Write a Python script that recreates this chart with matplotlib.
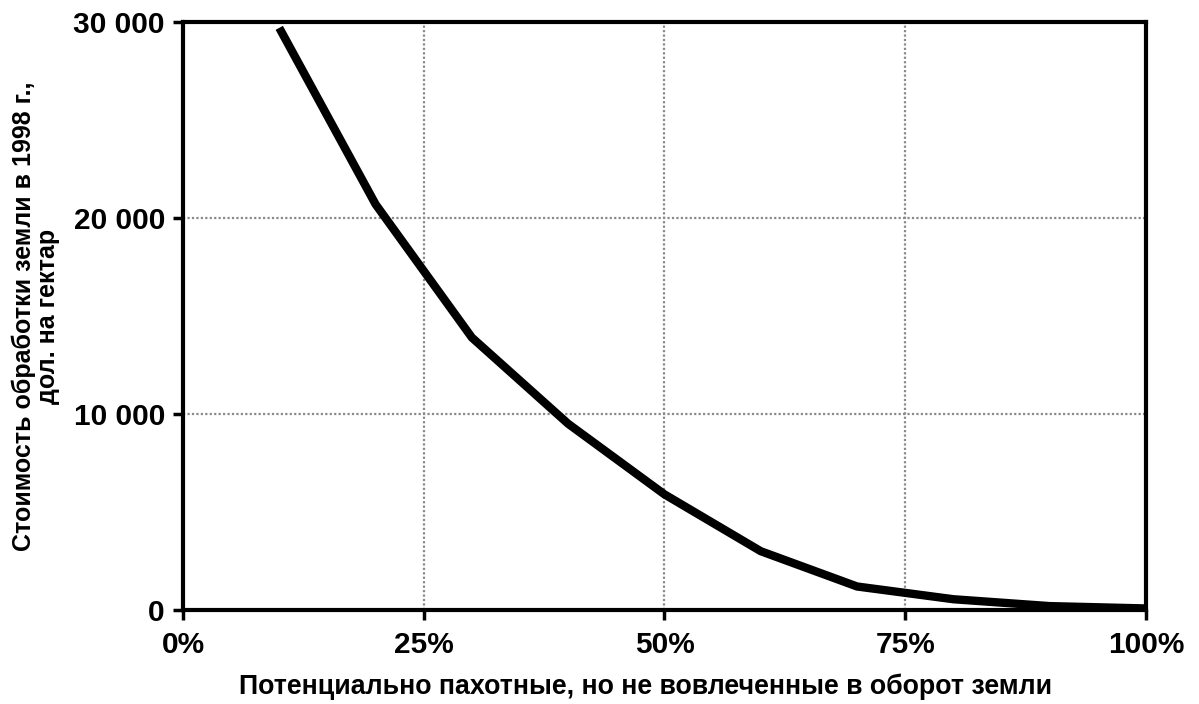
import matplotlib.pyplot as plt
from matplotlib.ticker import FuncFormatter

# share of potentially arable land (%) vs. cost of bringing it into use, USD/ha (1998)
share = [10, 20, 30, 40, 50, 60, 70, 80, 90, 100]
cost = [29700, 20700, 13900, 9500, 5900, 3000, 1200, 550, 200, 80]

x_ticks = [0, 25, 50, 75, 100]
y_ticks = [0, 10000, 20000, 30000]

plt.rcParams['font.family'] = ['Liberation Sans', 'DejaVu Sans']
plt.rcParams['font.weight'] = 'bold'

fig = plt.figure(figsize=(11.99, 7.04), dpi=100)
ax = fig.add_axes([0.1526, 0.1335, 0.8032, 0.8353])

ax.plot(share, cost, color='black', linewidth=6, solid_capstyle='butt',
        solid_joinstyle='miter', zorder=3)

ax.set_xlim(0, 100)
ax.set_ylim(0, 30000)
ax.set_xticks(x_ticks)
ax.set_yticks(y_ticks)
ax.xaxis.set_major_formatter(FuncFormatter(lambda v, p: f'{int(v)}%'))
ax.yaxis.set_major_formatter(FuncFormatter(lambda v, p: f'{int(v):,}'.replace(',', ' ')))

ax.grid(True, color='#8a8a8a', linestyle=(0, (1, 1)), linewidth=1.6)
ax.set_axisbelow(True)
for s in ax.spines.values():
    s.set_linewidth(3)
    s.set_color('black')

ax.tick_params(axis='both', direction='out', length=7, width=2.5, labelsize=21.5)
ax.tick_params(axis='x', pad=8)
ax.tick_params(axis='y', pad=6)
for lbl in ax.get_xticklabels() + ax.get_yticklabels():
    lbl.set_fontweight('bold')

ax.set_xlabel('Потенциально пахотные, но не вовлеченные в оборот земли',
              fontsize=19.3, fontweight='bold')
ax.xaxis.set_label_coords(0.48, -0.108)
ax.set_ylabel('Стоимость обработки земли в 1998 г.,\nдол. на гектар',
              fontsize=18, fontweight='bold', labelpad=10, linespacing=0.95)

fig.savefig('out.png', dpi=100)
